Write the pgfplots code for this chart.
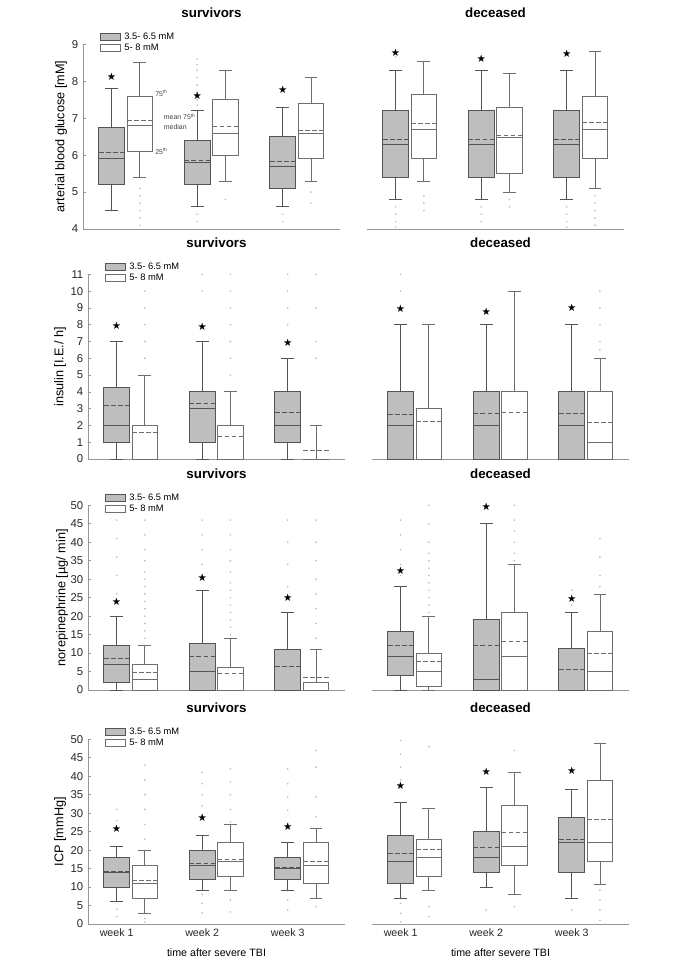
\documentclass[border=0pt]{standalone}
\usepackage{pgfplots}
\pgfplotsset{compat=1.18}
\usepgfplotslibrary{statistics}
\usepackage{fontspec}
\setmainfont{Liberation Sans}
\newfontfamily\symfont{DejaVu Sans}
\definecolor{boxfill}{RGB}{190,190,190}
\definecolor{boxedge}{RGB}{85,85,85}
\definecolor{wedge}{RGB}{110,110,110}
\definecolor{axgray}{RGB}{150,150,150}
\definecolor{outl}{RGB}{190,190,190}

\pgfdeclareplotmark{meanbar}{\pgfsetdash{{3.5pt}{1.8pt}}{0pt}\pgfpathmoveto{\pgfqpoint{-\pgfplotmarksize}{0pt}}\pgfpathlineto{\pgfqpoint{\pgfplotmarksize}{0pt}}\pgfusepathqstroke}

\newcommand{\gb}[7]{\addplot[draw=boxedge, fill=boxfill, line width=0.6pt, boxplot prepared={draw position=#1, lower whisker=#2, lower quartile=#3, median=#4, upper quartile=#5, upper whisker=#6, average=#7}] coordinates {};}
\newcommand{\wb}[7]{\addplot[draw=wedge, fill=white, line width=0.6pt, boxplot prepared={draw position=#1, lower whisker=#2, lower quartile=#3, median=#4, upper quartile=#5, upper whisker=#6, average=#7}] coordinates {};}
\newcommand{\stars}[1]{\addplot[only marks, mark=text, text mark={\fontsize{7.8}{8}\selectfont\symfont ★}, color=black] coordinates {#1};}
\newcommand{\outl}[1]{\addplot[only marks, mark=*, mark size=0.4pt, color=outl] coordinates {#1};}
\newcommand{\anno}{\fontsize{5.2}{6}\selectfont}

\pgfplotsset{
 boxplot/draw direction=y,
 boxplot/box extend=0.3,
 boxplot/whisker extend=0.15,
 boxplot/every average/.style={/tikz/mark=meanbar, /tikz/mark size=9.6pt},
 panel/.style={
  scale only axis, width=192.75pt, height=138.5pt,
  xmin=0.665, xmax=3.67,
  axis x line*=bottom,
  axis line style={draw=axgray, line width=0.6pt, -},
  xtick={1,2,3}, xticklabels={}, major x tick style={draw=none},
  tick label style={font=\fontsize{8.5}{10}\selectfont, text=black!85},
  /pgf/number format/assume math mode=true,
  y tick style={draw=axgray, line width=0.5pt},
  major tick length=2.2pt,
  clip=false,
  title style={font=\bfseries\fontsize{10}{12}\selectfont, at={(0.5,1)}, anchor=center, yshift=17.5pt},
  every axis y label/.style={rotate=90, anchor=center, font=\fontsize{9.5}{11}\selectfont},
  legend style={at={(0.064,1.068)}, anchor=north west, draw=none, fill=none, font=\fontsize{7}{8}\selectfont, inner sep=0pt, row sep=0pt, nodes={inner sep=0.6pt, text height=5.2pt, text depth=1.3pt}},
  legend cell align=left,
  legend image code/.code={\draw[##1, line width=0.5pt] (0pt,-2.6pt) rectangle (15pt,2.6pt); \path (17.5pt,0pt);},
 },
 surv/.style={panel, axis y line*=left, title={survivors}},
 dec/.style={panel, axis y line=none, title={deceased}},
}
\newcommand{\leg}{\addlegendimage{draw=boxedge, fill=boxfill}\addlegendentry{3.5- 6.5 mM}\addlegendimage{draw=wedge, fill=white}\addlegendentry{5- 8 mM}}

\begin{document}
\begin{tikzpicture}
\path[use as bounding box] (0,0) rectangle (513.75pt,-723pt);

% ---------------- Row 1: glucose ----------------
\begin{axis}[surv, at={(62.25pt,-171.75pt)}, anchor=south west, ymin=4, ymax=9, ytick={4,5,6,7,8,9},
  ylabel={arterial blood glucose [mM]}, ylabel style={at={(axis description cs:-0.0856,0.5)}}]
\leg
\outl{(1.33,5.1) (1.33,4.9) (1.33,4.7) (1.33,4.5) (1.33,4.3) (1.33,4.1) (2,7.35) (2,7.5) (2,7.7) (2,7.9) (2,8.1) (2,8.3) (2,8.45) (2,8.6) (2,4.4) (2,4.2) (2.33,4.8) (3,4.4) (3,4.2) (3.33,5.0) (3.33,4.7)}
\gb{1}{4.5}{5.2}{5.9}{6.75}{7.8}{6.07}
\wb{1.33}{5.4}{6.1}{6.8}{7.6}{8.5}{6.94}
\gb{2}{4.6}{5.2}{5.8}{6.4}{7.2}{5.86}
\wb{2.33}{5.3}{6.0}{6.6}{7.5}{8.3}{6.77}
\gb{3}{4.6}{5.1}{5.7}{6.5}{7.3}{5.83}
\wb{3.33}{5.3}{5.9}{6.6}{7.4}{8.1}{6.67}
\stars{(1,8.12) (2,7.62) (3,7.76)}
\node[anchor=west, font=\anno, text=black!75, inner sep=0.5pt] at (axis cs:1.5,7.67) {75\textsuperscript{th}};
\node[anchor=west, font=\anno, text=black!75, inner sep=0.5pt] at (axis cs:1.6,7.04) {mean 75\textsuperscript{th}};
\node[anchor=west, font=\anno, text=black!75, inner sep=0.5pt] at (axis cs:1.6,6.75) {median};
\node[anchor=west, font=\anno, text=black!75, inner sep=0.5pt] at (axis cs:1.5,6.11) {25\textsuperscript{th}};
\end{axis}

\begin{axis}[dec, at={(275.25pt,-171.75pt)}, anchor=south west, ymin=4, ymax=9]
\outl{(1,4.6) (1,4.4) (1,4.2) (1,4.05) (1,8.66) (1.33,4.9) (1.33,4.7) (1.33,4.5) (2,4.6) (2,4.4) (2,4.2) (2.33,4.8) (2.33,4.6) (3,4.6) (3,4.4) (3,4.2) (3,4.05) (3.33,4.9) (3.33,4.7) (3.33,4.5) (3.33,4.3) (3.33,4.1)}
\gb{1}{4.8}{5.4}{6.3}{7.2}{8.3}{6.43}
\wb{1.33}{5.3}{5.9}{6.7}{7.65}{8.55}{6.85}
\gb{2}{4.8}{5.4}{6.3}{7.2}{8.3}{6.43}
\wb{2.33}{5.0}{5.5}{6.49}{7.3}{8.2}{6.54}
\gb{3}{4.8}{5.4}{6.3}{7.2}{8.3}{6.43}
\wb{3.33}{5.1}{5.9}{6.7}{7.6}{8.8}{6.89}
\stars{(1,8.78) (2,8.61) (3,8.75)}
\end{axis}

% ---------------- Row 2: insulin ----------------
\begin{axis}[surv, at={(66pt,-344.25pt)}, anchor=south west, ymin=0, ymax=11, ytick={0,1,...,11},
  ylabel={insulin [I.E./ h]}, ylabel style={at={(axis description cs:-0.109,0.5)}}]
\leg
\outl{(1.33,6) (1.33,7) (1.33,8) (1.33,9) (1.33,10) (2,10) (2,11) (2.33,5) (2.33,6) (2.33,7) (2.33,8) (2.33,9) (2.33,10) (2.33,11) (3,7) (3,8) (3,9) (3,10) (3,11) (3.33,6) (3.33,7) (3.33,9) (3.33,11)}
\gb{1}{0}{1}{2}{4.25}{7}{3.22}
\wb{1.33}{0}{0}{2}{2}{5}{1.57}
\gb{2}{0}{1}{3}{4}{7}{3.32}
\wb{2.33}{0}{0}{2}{2}{4}{1.33}
\gb{3}{0}{1}{2}{4}{6}{2.8}
\wb{3.33}{0}{0}{0}{0}{2}{0.5}
\stars{(1,7.92) (2,7.86) (3,6.92)}
\end{axis}

\begin{axis}[dec, at={(279pt,-344.25pt)}, anchor=south west, ymin=0, ymax=11]
\outl{(1,11) (1,10) (3.33,10) (3.33,9) (3.33,8) (3.33,7) (3.33,6.5)}
\gb{1}{0}{0}{2}{4}{8}{2.68}
\wb{1.33}{0}{0}{0}{3}{8}{2.25}
\gb{2}{0}{0}{2}{4}{8}{2.7}
\wb{2.33}{0}{0}{0}{4}{10}{2.76}
\gb{3}{0}{0}{2}{4}{8}{2.7}
\wb{3.33}{0}{0}{1}{4}{6}{2.2}
\stars{(1,8.95) (2,8.75) (3,9.0)}
\end{axis}

% ---------------- Row 3: norepinephrine ----------------
\begin{axis}[surv, at={(66pt,-517.5pt)}, anchor=south west, ymin=0, ymax=50, ytick={0,5,...,50},
  ylabel={norepinephrine [µg/ min]}, ylabel style={at={(axis description cs:-0.101,0.5)}}]
\leg
\outl{(1,46) (1,41) (1,36) (1,31) (1,26) (1.33,46) (1.33,42) (1.33,38) (1.33,35) (1.33,32) (1.33,30) (1.33,28) (1.33,26) (1.33,24) (1.33,22) (1.33,20) (1.33,18) (1.33,16) (1.33,14) (2,46) (2,42) (2,38) (2,34) (2,31) (2.33,46) (2.33,42) (2.33,38) (2.33,35) (2.33,32) (2.33,29) (2.33,27) (2.33,25) (2.33,23) (2.33,21) (2.33,19) (2.33,17) (2.33,15) (3,46) (3,40) (3,34) (3,28) (3.33,46) (3.33,40) (3.33,35) (3.33,30) (3.33,26) (3.33,22) (3.33,18) (3.33,14)}
\gb{1}{0}{2}{7}{12}{20}{8.6}
\wb{1.33}{0}{0}{3}{7}{12}{4.9}
\gb{2}{0}{0}{5}{12.5}{27}{9.2}
\wb{2.33}{0}{0}{0}{6}{14}{4.5}
\gb{3}{0}{0}{0}{11}{21}{6.3}
\wb{3.33}{0}{0}{0}{2}{11}{3.5}
\stars{(1,24) (2,30.3) (3,25)}
\end{axis}

\begin{axis}[dec, at={(279pt,-517.5pt)}, anchor=south west, ymin=0, ymax=50]
\outl{(1,46) (1,42) (1,38) (1,34) (1,31) (1.33,50) (1.33,45) (1.33,40) (1.33,37) (1.33,35) (1.33,33) (1.33,31) (1.33,29) (1.33,27) (1.33,25) (1.33,23) (1.33,21) (2.33,50) (2.33,46) (2.33,43) (2.33,40) (2.33,37) (2.33,35) (3,27) (3,23) (3.33,41) (3.33,36) (3.33,31) (3.33,28)}
\gb{1}{0}{4}{9}{16}{28}{12.1}
\wb{1.33}{0}{1}{5}{10}{20}{7.8}
\gb{2}{0}{0}{3}{19}{45}{12.1}
\wb{2.33}{0}{0}{9}{21}{34}{13.1}
\gb{3}{0}{0}{0}{11.2}{21}{5.7}
\wb{3.33}{0}{0}{5}{16}{26}{10}
\stars{(1,32.4) (2,49.5) (3,24.8)}
\end{axis}

% ---------------- Row 4: ICP ----------------
\begin{axis}[surv, at={(66pt,-693pt)}, anchor=south west, ymin=0, ymax=50, ytick={0,5,...,50},
  ylabel={ICP [mmHg]}, ylabel style={at={(axis description cs:-0.109,0.5)}},
  xticklabels={week 1, week 2, week 3}, xticklabel style={font=\fontsize{8}{9}\selectfont},
  xlabel={time after severe TBI}, xlabel style={at={(axis description cs:0.5,0)}, anchor=center, yshift=-21.75pt, font=\fontsize{8}{9}\selectfont}]
\leg
\outl{(1,31) (1,28) (1,4) (1,2) (1.33,43) (1.33,39) (1.33,35) (1.33,31) (1.33,27) (1.33,23) (1.33,1.5) (1.33,0.5) (2,41) (2,38) (2,35) (2,32) (2,29.5) (2,8) (2,5.6) (2,3) (2.33,42) (2.33,38.5) (2.33,35) (2.33,31) (2.33,27.7) (2.33,6.5) (2.33,3.3) (3,42) (3,38) (3,34.4) (3,30.8) (3,27.2) (3,6.5) (3,3.8) (3.33,47) (3.33,42.5) (3.33,34.4) (3.33,29) (3.33,4.7)}
\gb{1}{6}{10}{14}{18}{21}{14.2}
\wb{1.33}{3}{7}{11}{16}{20}{11.7}
\gb{2}{9}{12}{16}{20}{24}{16.4}
\wb{2.33}{9}{13}{17}{22}{27}{17.6}
\gb{3}{9}{12}{15}{18}{22}{15.2}
\wb{3.33}{7}{11}{16}{22}{26}{17}
\stars{(1,25.9) (2,28.8) (3,26.2)}
\end{axis}

\begin{axis}[dec, at={(279pt,-693pt)}, anchor=south west, ymin=0, ymax=50,
  xticklabels={week 1, week 2, week 3}, xticklabel style={font=\fontsize{8}{9}\selectfont},
  xlabel={time after severe TBI}, xlabel style={at={(axis description cs:0.5,0)}, anchor=center, yshift=-21.75pt, font=\fontsize{8}{9}\selectfont}]
\outl{(1,49.7) (1,46) (1,42.5) (1,39) (1,5.6) (1,2.9) (1,0.6) (1.33,48) (1.33,4.7) (1.33,2) (2,3.8) (2.33,47) (2.33,4.7) (3,3.8) (3.33,9.2) (3.33,6.5) (3.33,3.8) (3.33,1)}
\gb{1}{7}{11}{17}{24}{33}{19.1}
\wb{1.33}{9}{13}{18}{23}{31.3}{20.2}
\gb{2}{10}{14}{18}{25}{37}{20.8}
\wb{2.33}{8}{16}{21}{32}{41}{24.8}
\gb{3}{7}{14}{22}{29}{36.5}{23}
\wb{3.33}{10.7}{17}{22}{39}{49}{28.4}
\stars{(1,37.4) (2,41.2) (3,41.5)}
\end{axis}
\end{tikzpicture}
\end{document}
